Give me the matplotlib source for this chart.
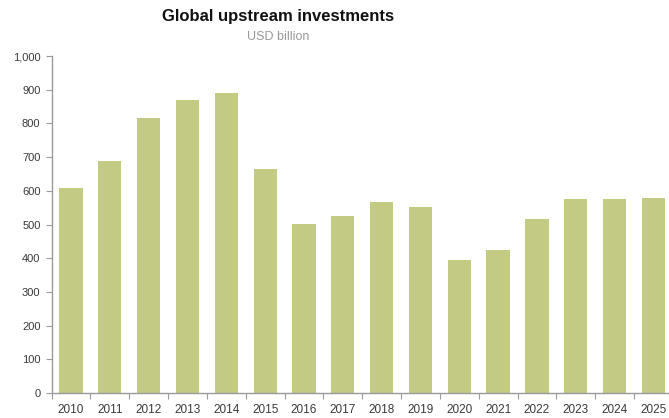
import numpy as np
from matplotlib import pyplot as plt
from matplotlib.ticker import FuncFormatter

years = [str(y) for y in range(2010, 2026)]
investments = [608, 689, 815, 870, 889, 664, 502, 526, 567, 552, 395, 423, 516, 577, 577, 579]

BAR_COLOR = "#c3ca84"
AXIS_COLOR = "#9a9a9a"
TEXT_COLOR = "#3a3a3a"

plt.rcParams["font.family"] = ["Liberation Sans", "DejaVu Sans"]

fig = plt.figure(figsize=(6.69, 4.18), dpi=100)
ax = fig.add_axes([0.0771, 0.0598, 0.9287, 0.806])

x = np.arange(len(years))
ax.bar(x, investments, width=0.6, color=BAR_COLOR, zorder=2)

ax.set_xlim(-0.5, len(years) - 0.5)
ax.set_ylim(0, 1000)
ax.set_yticks(np.arange(0, 1001, 100))
ax.yaxis.set_major_formatter(FuncFormatter(lambda v, _: f"{int(v):,}"))

# labels sit under each bar, tick marks sit between the bars
ax.set_xticks(x, years)
ax.set_xticks(np.arange(-0.5, len(years), 1.0), minor=True)
ax.tick_params(axis="x", which="major", length=0, pad=8, labelsize=8.5, labelcolor=TEXT_COLOR)
ax.tick_params(axis="x", which="minor", length=4, width=0.8, color=AXIS_COLOR)
ax.tick_params(axis="y", length=4, width=0.8, color=AXIS_COLOR, pad=4, labelsize=8, labelcolor=TEXT_COLOR)

for side in ("top", "right"):
    ax.spines[side].set_visible(False)
for side in ("left", "bottom"):
    ax.spines[side].set_color(AXIS_COLOR)
    ax.spines[side].set_linewidth(1.0)

fig.text(278 / 669, 1 - 17 / 418, "Global upstream investments", ha="center", va="center",
         fontsize=12, fontweight="bold", color="#111111")
fig.text(278 / 669, 1 - 37 / 418, "USD billion", ha="center", va="center",
         fontsize=9, color="#999999")

fig.savefig("out.png", dpi=100)
